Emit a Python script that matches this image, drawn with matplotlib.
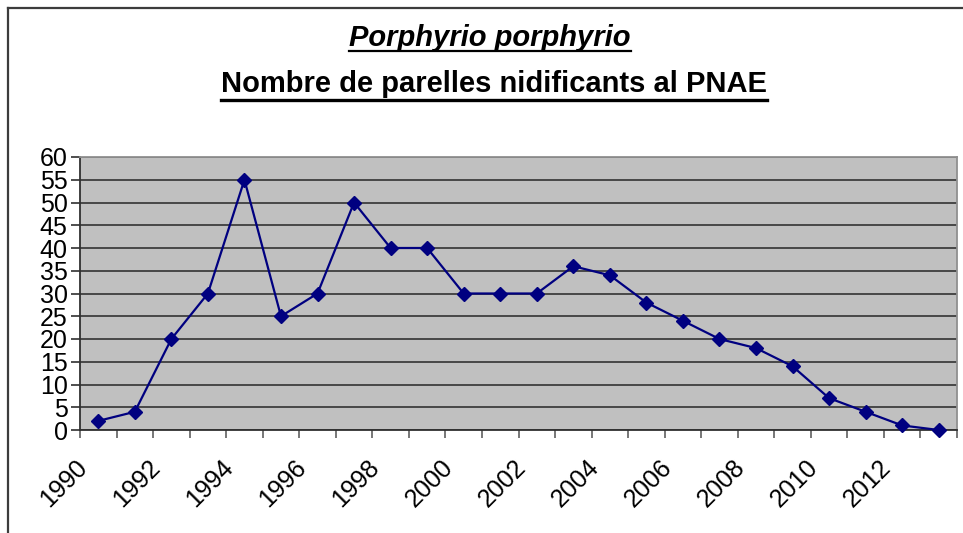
import matplotlib
matplotlib.use("Agg")
import matplotlib.pyplot as plt
from matplotlib.lines import Line2D

years = list(range(1990, 2014))
parelles = [2, 4, 20, 30, 55, 25, 30, 50, 40, 40, 30, 30,
            30, 36, 34, 28, 24, 20, 18, 14, 7, 4, 1, 0]
label_years = years[::2]
y_ticks = list(range(0, 61, 5))

title_1 = "Porphyrio porphyrio"
title_2 = "Nombre de parelles nidificants al PNAE"

plt.rcParams['font.family'] = ['Liberation Sans', 'DejaVu Sans']

W, H = 963, 533
fig = plt.figure(figsize=(W / 100, H / 100), dpi=100)


def px(x, y):
    # pixel (from top-left) -> figure fraction
    return x / W, 1 - y / H


ax = fig.add_axes([80 / W, (H - 430) / H, 877 / W, 273 / H])
ax.set_facecolor("#c0c0c0")

ax.plot(years, parelles, color="#000080", lw=1.6, marker="D",
        ms=7.4, mfc="#000080", mec="#000080", zorder=3, clip_on=False)

ax.set_xlim(years[0] - 0.5, years[-1] + 0.5)
ax.set_ylim(0, 60)
ax.set_yticks(y_ticks)
ax.yaxis.grid(True, color="#333333", lw=1.2)
ax.set_axisbelow(True)

# category boundaries as major ticks, labels every 2 years
ax.set_xticks([y - 0.5 for y in years] + [years[-1] + 0.5])
ax.set_xticklabels([])
ax.xaxis.remove_overlapping_locs = False
ax.set_xticks([y - 0.4 for y in label_years], minor=True)
ax.set_xticklabels([str(y) for y in label_years], minor=True)
ax.tick_params(axis="x", which="major", direction="out", length=6,
               width=1.2, color="#606060")
ax.tick_params(axis="x", which="minor", length=0, pad=24, labelsize=18)
for lab in ax.get_xticklabels(minor=True):
    lab.set_rotation(45)
    lab.set_ha("right")
    lab.set_va("center")
    lab.set_rotation_mode("anchor")

ax.tick_params(axis="y", direction="out", length=6.5, width=1.2,
               color="#303030", pad=2.5, labelsize=18)

for side in ["left", "bottom"]:
    ax.spines[side].set_color("#303030")
    ax.spines[side].set_linewidth(1.3)
for side in ["top", "right"]:
    ax.spines[side].set_color("#909090")
    ax.spines[side].set_linewidth(1.3)

# titles with underline
t1 = fig.text(*px(490, 46), title_1, ha="center", va="baseline",
              fontsize=21, fontweight="bold", fontstyle="italic")
t2 = fig.text(*px(494, 92), title_2, ha="center", va="baseline",
              fontsize=21, fontweight="bold")

fig.canvas.draw()
r = fig.canvas.get_renderer()
for t, uy, lw in [(t1, 51, 1.6), (t2, 99.5, 2.4)]:
    bb = t.get_window_extent(r).transformed(fig.transFigure.inverted())
    fig.add_artist(Line2D([bb.x0, bb.x1], [1 - uy / H] * 2,
                          color="black", lw=lw, transform=fig.transFigure))

# chart area border (runs off right and bottom)
fig.add_artist(Line2D([px(7.5, 0)[0]] * 2, [0, px(0, 7.5)[1]],
                      color="#3c3c3c", lw=1.6, transform=fig.transFigure))
fig.add_artist(Line2D([px(7.5, 0)[0], 1], [px(0, 7.5)[1]] * 2,
                      color="#3c3c3c", lw=1.6, transform=fig.transFigure))

fig.savefig("out.png", dpi=100)
